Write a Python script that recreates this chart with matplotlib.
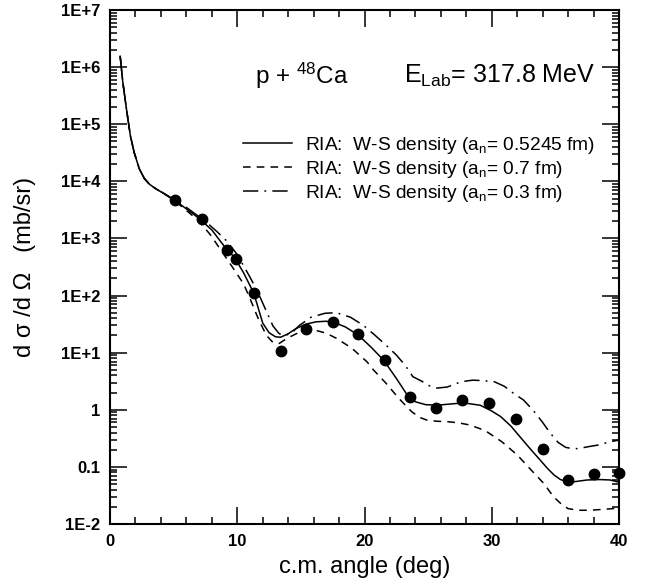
import numpy as np
import matplotlib
matplotlib.use("Agg")
import matplotlib.pyplot as plt
from matplotlib.ticker import FixedLocator, LogLocator, MultipleLocator, NullFormatter, FixedFormatter

plt.rcParams['font.family'] = ['Liberation Sans', 'DejaVu Sans']
plt.rcParams['mathtext.fontset'] = 'custom'
plt.rcParams['mathtext.rm'] = 'Liberation Sans'
plt.rcParams['mathtext.it'] = 'Liberation Sans:italic'

# p + 48Ca elastic scattering, E_lab = 317.8 MeV
ang_exp = [5.1, 7.2, 9.2, 9.9, 11.3, 13.4, 15.4, 17.5, 19.5, 21.6,
           23.6, 25.6, 27.7, 29.8, 31.9, 34.0, 36.0, 38.0, 40.0]
xs_exp = [4700, 2160, 627, 436, 109, 10.7, 25.9, 33.9, 20.9, 7.4,
          1.65, 1.07, 1.48, 1.29, 0.68, 0.203, 0.059, 0.076, 0.078]

# RIA, W-S density a_n = 0.5245 fm
ang_a = [0.8, 1.0, 1.3, 1.6, 1.9, 2.3, 2.7, 3.1, 3.6, 4.2, 5.0, 6.0, 7.0, 8.0,
         9.0, 9.8, 10.5, 11.3, 12.0, 12.5, 13.0, 13.4, 14.0, 14.6, 15.4, 16.2,
         17.0, 17.6, 18.5, 19.5, 20.5, 21.5, 22.5, 23.3, 24.0, 24.8, 25.7, 26.7,
         27.8, 29.1, 30.0, 30.7, 31.5, 32.2, 33.0, 33.8, 34.4, 34.9, 35.4, 35.9,
         36.5, 37.5, 38.5, 39.3, 40.0]
xs_a = [1.55e6, 5.6e5, 1.8e5, 6.3e4, 3.2e4, 1.66e4, 1.12e4, 8.9e3, 7.4e3, 6.2e3,
        4.8e3, 3.3e3, 2.24e3, 1.41e3, 7.2e2, 4.6e2, 2.5e2, 1.1e2, 33, 22.4, 19.0,
        18.6, 21.4, 26.3, 31.6, 34.7, 35.5, 33.9, 28.2, 20.4, 12.6, 7.4, 3.55,
        1.9, 1.38, 1.23, 1.2, 1.26, 1.32, 1.2, 0.95, 0.76, 0.52, 0.34, 0.21,
        0.132, 0.093, 0.072, 0.06, 0.055, 0.055, 0.059, 0.06, 0.059, 0.054]

# RIA, W-S density a_n = 0.7 fm
ang_b = [0.8, 1.0, 1.3, 1.6, 1.9, 2.3, 2.7, 3.1, 3.6, 4.2, 5.0, 6.0, 7.0, 7.9,
         8.7, 9.6, 10.5, 11.0, 11.7, 12.3, 12.8, 13.3, 13.9, 14.9, 15.6, 16.2,
         17.0, 17.8, 19.0, 20.2, 20.7, 21.7, 22.7, 23.7, 24.3, 24.9, 25.7, 26.5,
         27.4, 28.3, 29.5, 30.8, 32.0, 33.0, 34.1, 34.85, 35.5, 36.0, 36.8, 37.7,
         39.0, 40.0]
xs_b = [1.55e6, 5.6e5, 1.8e5, 6.3e4, 3.2e4, 1.66e4, 1.12e4, 8.9e3, 7.4e3, 6.2e3,
        4.7e3, 3.1e3, 2.0e3, 1.15e3, 6.3e2, 3.2e2, 1.6e2, 89, 37, 20, 15.1, 14.5,
        17.8, 22.9, 24.5, 24.5, 21.9, 17.8, 12.0, 6.9, 5.0, 2.9, 1.58, 0.93,
        0.74, 0.66, 0.63, 0.62, 0.59, 0.54, 0.43, 0.275, 0.162, 0.093, 0.051,
        0.030, 0.022, 0.0186, 0.0174, 0.0174, 0.0182, 0.019]

# RIA, W-S density a_n = 0.3 fm
ang_c = [0.8, 1.0, 1.3, 1.6, 1.9, 2.3, 2.7, 3.1, 3.6, 4.2, 5.0, 6.0, 7.0, 7.7,
         8.4, 9.2, 10.0, 11.0, 11.6, 12.1, 12.8, 13.3, 13.8, 14.3, 14.9, 15.8,
         16.9, 17.8, 18.9, 19.9, 20.8, 21.7, 22.5, 23.2, 23.8, 24.5, 25.1, 25.7,
         26.5, 27.6, 28.5, 29.3, 30.2, 31.0, 31.7, 32.5, 33.3, 34.0, 34.6, 35.2,
         35.8, 36.3, 36.8, 37.5, 38.3, 39.3, 40.0]
xs_c = [1.55e6, 5.6e5, 1.8e5, 6.3e4, 3.2e4, 1.66e4, 1.12e4, 8.9e3, 7.4e3, 6.2e3,
        4.8e3, 3.5e3, 2.4e3, 1.82e3, 1.32e3, 8.9e2, 5.2e2, 2.1e2, 1.17e2, 66,
        29.5, 21.4, 20.0, 22.4, 30.2, 41.7, 49.0, 50.1, 41.7, 30.2, 20.4, 13.5,
        9.1, 6.0, 3.8, 3.16, 2.63, 2.4, 2.5, 3.1, 3.3, 3.24, 3.1, 2.57, 1.95,
        1.48, 0.95, 0.6, 0.39, 0.27, 0.22, 0.209, 0.209, 0.224, 0.24, 0.275, 0.295]

ytick_vals = [1e-2, 1e-1, 1, 1e1, 1e2, 1e3, 1e4, 1e5, 1e6, 1e7]
ytick_text = ['1E-2', '0.1', '1', '1E+1', '1E+2', '1E+3', '1E+4', '1E+5', '1E+6', '1E+7']

fig = plt.figure(figsize=(6.47, 5.87), dpi=100)
ax = fig.add_axes([110/647, 1 - 524/587, 509/647, 514/587])

ax.plot(ang_a, xs_a, color='k', lw=1.1,
        label=r'RIA:  W-S density (a$_{\mathrm{n}}$= 0.5245 fm)')
ax.plot(ang_b, xs_b, color='k', lw=1.1, ls=(0, (5, 4)),
        label=r'RIA:  W-S density (a$_{\mathrm{n}}$= 0.7 fm)')
ax.plot(ang_c, xs_c, color='k', lw=1.1, ls=(0, (10, 4, 1.2, 4)),
        label=r'RIA:  W-S density (a$_{\mathrm{n}}$= 0.3 fm)')
ax.plot(ang_exp, xs_exp, 'o', color='k', ms=7.5, zorder=5, clip_on=False)

ax.set_yscale('log')
ax.set_xlim(0, 40)
ax.set_ylim(1e-2, 1e7)

ax.xaxis.set_major_locator(MultipleLocator(10))
ax.xaxis.set_minor_locator(MultipleLocator(2))
ax.yaxis.set_major_locator(FixedLocator(ytick_vals))
ax.yaxis.set_major_formatter(FixedFormatter(ytick_text))
ax.yaxis.set_minor_locator(LogLocator(base=10, subs=np.arange(2, 10), numticks=20))
ax.yaxis.set_minor_formatter(NullFormatter())

ax.tick_params(which='both', direction='in', top=True, right=True, width=1.1)
ax.tick_params(which='major', length=12, pad=7, labelsize=12)
ax.tick_params(which='minor', length=5)
for lab in ax.get_xticklabels() + ax.get_yticklabels():
    lab.set_fontweight('bold')
for sp in ax.spines.values():
    sp.set_linewidth(1.5)

ax.set_xlabel('c.m. angle (deg)', fontsize=17, labelpad=5)
ax.set_ylabel('d σ /d Ω   (mb/sr)', fontsize=17)
ax.yaxis.set_label_coords(-0.145, 0.5)

ax.text(0.285, 0.872, r'p + $^{\mathrm{48}}$Ca', transform=ax.transAxes,
        fontsize=17.5, va='center', ha='left')
ax.text(0.578, 0.872, r'E$_{\mathrm{Lab}}$= 317.8 MeV', transform=ax.transAxes,
        fontsize=18, va='center', ha='left')

ax.legend(loc='upper left', bbox_to_anchor=(0.261, 0.757), frameon=False,
          fontsize=13.8, handlelength=2.55, handletextpad=0.68, labelspacing=0.16,
          borderpad=0, borderaxespad=0)

fig.savefig('out.png', dpi=100)
